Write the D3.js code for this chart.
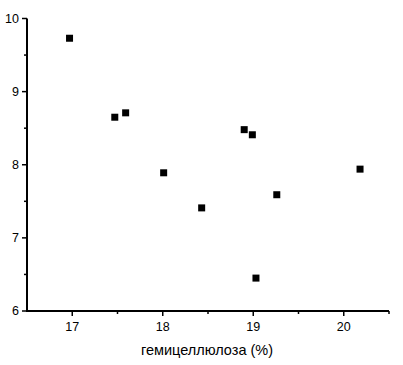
<!DOCTYPE html>
<html>
<head>
<meta charset="utf-8">
<script src="https://cdn.jsdelivr.net/npm/d3@7"></script>
<style>
  body { margin: 0; background: #fff; }
  svg { display: block; }
</style>
</head>
<body>
<div id="chart"></div>
<script>
// hemicellulose (%) vs value
const hemicellulose = [16.97, 17.47, 17.59, 18.01, 18.43, 18.90, 18.99, 19.26, 19.03, 20.18];
const values        = [9.73,  8.65,  8.71,  7.89,  7.41,  8.48,  8.41,  7.59,  6.45,  7.94];
const xTicks = [17, 18, 19, 20];
const yTicks = [6, 7, 8, 9, 10];
const xMinor = [17.5, 18.5, 19.5, 20.5];
const yMinor = [6.5, 7.5, 8.5, 9.5];

const W = 403, H = 365;
const m = { t: 18.5, r: 14, b: 54, l: 27 };

const svg = d3.select('#chart').append('svg')
  .attr('width', W).attr('height', H);

const x = d3.scaleLinear().domain([16.5, 20.5]).range([m.l, m.l + 4 * 90.5]);
const y = d3.scaleLinear().domain([6, 10]).range([H - m.b, m.t]);

const font = 'Liberation Sans, Arial, sans-serif';

// x axis
const gx = svg.append('g').attr('transform', `translate(0,${y(6)})`);
gx.append('line')
  .attr('x1', x(16.5) - 1).attr('x2', x(20.5))
  .attr('stroke', '#000').attr('stroke-width', 2);
gx.selectAll('line.major').data(xTicks).join('line')
  .attr('class', 'major')
  .attr('x1', d => x(d)).attr('x2', d => x(d))
  .attr('y1', 0).attr('y2', 5)
  .attr('stroke', '#000').attr('stroke-width', 1.5);
gx.selectAll('line.minor').data(xMinor).join('line')
  .attr('class', 'minor')
  .attr('x1', d => x(d)).attr('x2', d => x(d))
  .attr('y1', 0).attr('y2', 3)
  .attr('stroke', '#000').attr('stroke-width', 1.5);
gx.selectAll('text').data(xTicks).join('text')
  .attr('x', d => x(d)).attr('y', 20)
  .attr('text-anchor', 'middle')
  .attr('font-family', font).attr('font-size', 12.5)
  .text(d => d);

// y axis
const gy = svg.append('g').attr('transform', `translate(${x(16.5)},0)`);
gy.append('line')
  .attr('y1', y(10)).attr('y2', y(6) + 1)
  .attr('stroke', '#000').attr('stroke-width', 2);
gy.selectAll('line.major').data(yTicks).join('line')
  .attr('class', 'major')
  .attr('x1', 0).attr('x2', -5)
  .attr('y1', d => y(d)).attr('y2', d => y(d))
  .attr('stroke', '#000').attr('stroke-width', 1.5);
gy.selectAll('line.minor').data(yMinor).join('line')
  .attr('class', 'minor')
  .attr('x1', 0).attr('x2', -3)
  .attr('y1', d => y(d)).attr('y2', d => y(d))
  .attr('stroke', '#000').attr('stroke-width', 1.5);
gy.selectAll('text').data(yTicks).join('text')
  .attr('x', -8).attr('y', d => y(d) + 4)
  .attr('text-anchor', 'end')
  .attr('font-family', font).attr('font-size', 12.5)
  .text(d => d);

// axis title
svg.append('text')
  .attr('x', 207).attr('y', 355)
  .attr('text-anchor', 'middle')
  .attr('font-family', font).attr('font-size', 14.5)
  .text('гемицеллюлоза (%)');

// points
const pts = hemicellulose.map((v, i) => ({ x: v, y: values[i] }));
svg.append('g').selectAll('rect').data(pts).join('rect')
  .attr('x', d => x(d.x) - 3.5).attr('y', d => y(d.y) - 3.5)
  .attr('width', 7).attr('height', 7)
  .attr('fill', '#000');
</script>
</body>
</html>
